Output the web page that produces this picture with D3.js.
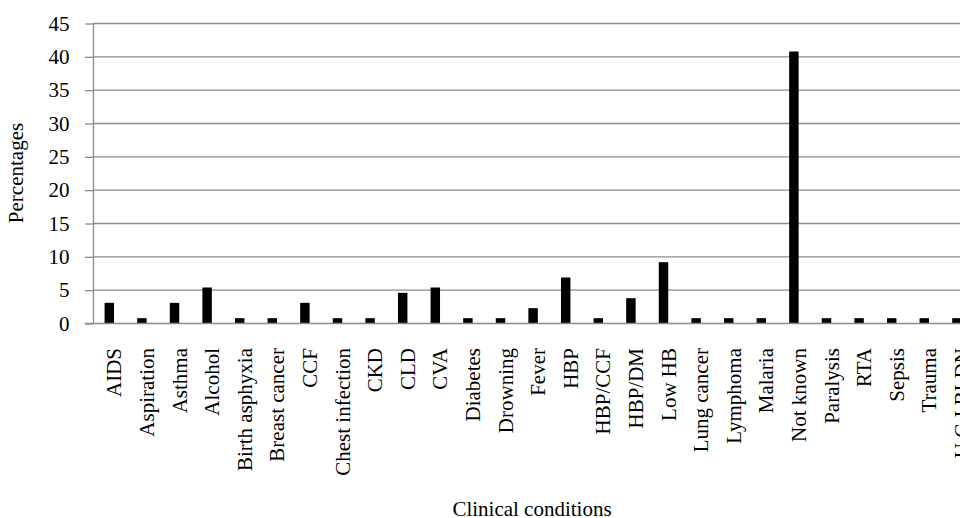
<!DOCTYPE html>
<html>
<head>
<meta charset="utf-8">
<script src="https://cdn.jsdelivr.net/npm/d3@7"></script>
<style>
  html, body { margin: 0; padding: 0; background: #fff; }
  svg { display: block; }
  text { font-family: "Liberation Serif", "Times New Roman", serif; fill: #000; }
</style>
</head>
<body>
<svg id="chart" width="960" height="518"></svg>
<script>
// Clinical conditions and their share of cases (%)
const categories = [
  "AIDS", "Aspiration", "Asthma", "Alcohol", "Birth asphyxia", "Breast cancer",
  "CCF", "Chest infection", "CKD", "CLD", "CVA", "Diabetes", "Drowning", "Fever",
  "HBP", "HBP/CCF", "HBP/DM", "Low HB", "Lung cancer", "Lymphoma", "Malaria",
  "Not known", "Paralysis", "RTA", "Sepsis", "Trauma", "U G I BLDN"
];
const percentages = [
  3.1, 0.8, 3.1, 5.4, 0.8, 0.8,
  3.1, 0.8, 0.8, 4.6, 5.4, 0.8, 0.8, 2.3,
  6.9, 0.8, 3.8, 9.2, 0.8, 0.8, 0.8,
  40.8, 0.8, 0.8, 0.8, 0.8, 0.8
];
const yTicks = [0, 5, 10, 15, 20, 25, 30, 35, 40, 45];

const svg = d3.select("#chart");
const fontSize = 21;
const plotLeft = 93, plotTop = 23.5, plotBottom = 323.5, step = 32.6;
const plotRight = plotLeft + step * categories.length;

const x = d3.scaleBand()
  .domain(categories)
  .range([plotLeft, plotRight])
  .paddingInner(0.71)
  .paddingOuter(0.355);

const y = d3.scaleLinear().domain([0, 45]).range([plotBottom, plotTop]);

const gridColor = "#8c8c8c";

// horizontal gridlines
svg.append("g")
  .selectAll("line")
  .data(yTicks.filter(t => t > 0))
  .join("line")
  .attr("x1", plotLeft).attr("x2", 960)
  .attr("y1", d => y(d)).attr("y2", d => y(d))
  .attr("stroke", gridColor).attr("stroke-width", 1.3);

// y axis with outward tick marks
const yAxis = svg.append("g")
  .attr("transform", `translate(${plotLeft},0)`)
  .call(d3.axisLeft(y).tickValues(yTicks).tickSize(8).tickPadding(15.5).tickSizeOuter(0));
yAxis.select(".domain").attr("stroke", gridColor).attr("stroke-width", 1.3);
yAxis.selectAll(".tick line").attr("stroke", gridColor).attr("stroke-width", 1.3);
yAxis.selectAll(".tick text")
  .attr("font-size", fontSize)
  .style("font-family", "'Liberation Serif', 'Times New Roman', serif")
  .attr("fill", "#000");

// bars
svg.append("g")
  .selectAll("rect")
  .data(categories.map((c, i) => ({ c, v: percentages[i] })))
  .join("rect")
  .attr("x", d => x(d.c))
  .attr("width", x.bandwidth())
  .attr("y", d => y(d.v))
  .attr("height", d => y(0) - y(d.v))
  .attr("fill", "#000");

// x axis baseline
svg.append("line")
  .attr("x1", plotLeft - 8).attr("x2", 960)
  .attr("y1", plotBottom).attr("y2", plotBottom)
  .attr("stroke", gridColor).attr("stroke-width", 1.3);

// rotated category labels
svg.append("g")
  .selectAll("text")
  .data(categories)
  .join("text")
  .attr("transform", d => `translate(${x(d) + x.bandwidth() / 2 + 12},${plotBottom + 24.5}) rotate(-90)`)
  .attr("text-anchor", "end")
  .attr("font-size", fontSize)
  .text(d => d);

// axis titles
svg.append("text")
  .attr("transform", "translate(23,173) rotate(-90)")
  .attr("text-anchor", "middle")
  .attr("font-size", fontSize)
  .text("Percentages");

svg.append("text")
  .attr("x", 532).attr("y", 516)
  .attr("text-anchor", "middle")
  .attr("font-size", fontSize)
  .text("Clinical conditions");
</script>
</body>
</html>
